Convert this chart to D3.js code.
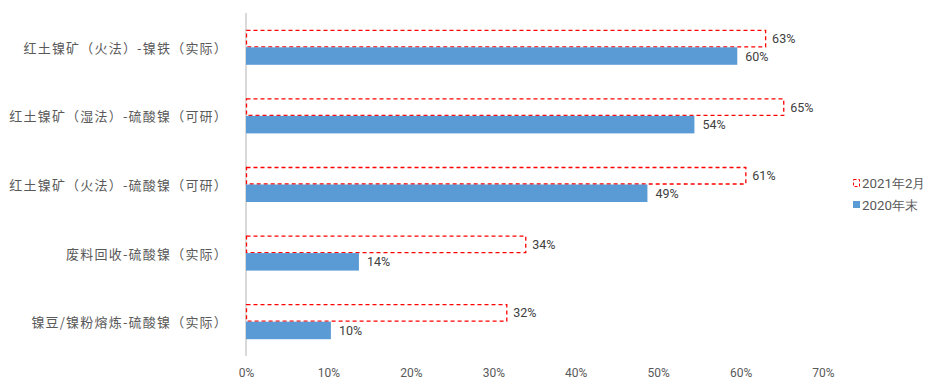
<!DOCTYPE html>
<html><head><meta charset="utf-8">
<script src="https://cdn.jsdelivr.net/npm/d3@7/dist/d3.min.js"></script>
<style>body{margin:0;background:#fff;}svg{display:block;}</style>
</head><body>
<svg id="chart" width="941" height="388"></svg>
<script>
const categories = ["红土镍矿（火法）-镍铁（实际）","红土镍矿（湿法）-硫酸镍（可研）","红土镍矿（火法）-硫酸镍（可研）","废料回收-硫酸镍（实际）","镍豆/镍粉熔炼-硫酸镍（实际）"];
const series2021 = [0.631, 0.653, 0.607, 0.340, 0.317];
const series2020 = [0.596, 0.544, 0.487, 0.137, 0.103];
const seriesNames = ["2021年2月", "2020年末"];
const tickValues = [0,0.1,0.2,0.3,0.4,0.5,0.6,0.7];

const svg = d3.select("#chart");
const x = d3.scaleLinear().domain([0,0.7]).range([246,823]);
const y = d3.scaleBand().domain(categories).range([13,356]).paddingInner(0.49).paddingOuter(0.245);
const bh = y.bandwidth()/2;
const fmt = d3.format(".0%");

// axis line
svg.append("line").attr("x1",246).attr("x2",246).attr("y1",13).attr("y2",356)
  .attr("stroke","#d9d9d9").attr("stroke-width",2);

// x tick labels
const xAxis = d3.axisBottom(x).tickValues(tickValues).tickFormat(fmt).tickSize(0).tickPadding(0);
const gx = svg.append("g").attr("transform","translate(0,368)").call(xAxis);
gx.select(".domain").remove();
gx.selectAll("text").attr("font-family","Roboto, 'Liberation Sans', sans-serif").attr("font-size",12).attr("fill","#595959");

// category labels
svg.append("g").selectAll("text").data(categories).join("text")
  .attr("x",228).attr("y",d=>y(d)+y.bandwidth()/2)
  .attr("text-anchor","end").attr("dominant-baseline","central")
  .attr("font-family","'Noto Sans CJK SC', sans-serif").attr("font-size",13)
  .attr("letter-spacing","1.2px").attr("fill","#595959").text(d=>d);

// 2021 bars (dashed outline)
svg.append("g").selectAll("rect").data(categories).join("rect")
  .attr("x",x(0)+0.5).attr("y",d=>y(d)+0.5)
  .attr("width",(d,i)=>x(series2021[i])-x(0)-1).attr("height",bh-1)
  .attr("fill","#fff").attr("stroke","#ff0000").attr("stroke-width",1.3).attr("stroke-dasharray","4,3");

// 2020 bars
svg.append("g").selectAll("rect").data(categories).join("rect")
  .attr("x",x(0)).attr("y",d=>y(d)+bh)
  .attr("width",(d,i)=>x(series2020[i])-x(0)).attr("height",bh)
  .attr("fill","#5b9bd5");

// value labels
const lf = "Roboto, 'Liberation Sans', sans-serif";
svg.append("g").selectAll("text").data(categories).join("text")
  .attr("x",(d,i)=>x(series2021[i])+6).attr("y",d=>y(d)+bh/2)
  .attr("dominant-baseline","central").attr("font-family",lf).attr("font-size",12.5).attr("fill","#404040")
  .text((d,i)=>fmt(series2021[i]));
svg.append("g").selectAll("text").data(categories).join("text")
  .attr("x",(d,i)=>x(series2020[i])+8).attr("y",d=>y(d)+bh*1.5)
  .attr("dominant-baseline","central").attr("font-family",lf).attr("font-size",12.5).attr("fill","#404040")
  .text((d,i)=>fmt(series2020[i]));

// legend
const lg = svg.append("g").attr("transform","translate(853,183)");
lg.append("rect").attr("x",0.5).attr("y",-3.5).attr("width",6).attr("height",7)
  .attr("fill","#fff").attr("stroke","#ff0000").attr("stroke-width",1).attr("stroke-dasharray","3,2");
lg.append("text").attr("x",9).attr("y",0).attr("dominant-baseline","central")
  .attr("font-family",lf).attr("font-size",13.3).attr("fill","#595959").text(seriesNames[0]);
lg.append("rect").attr("x",0).attr("y",18).attr("width",7).attr("height",7).attr("fill","#5b9bd5");
lg.append("text").attr("x",9).attr("y",22).attr("dominant-baseline","central")
  .attr("font-family",lf).attr("font-size",13.3).attr("fill","#595959").text(seriesNames[1]);
</script>
</body></html>
